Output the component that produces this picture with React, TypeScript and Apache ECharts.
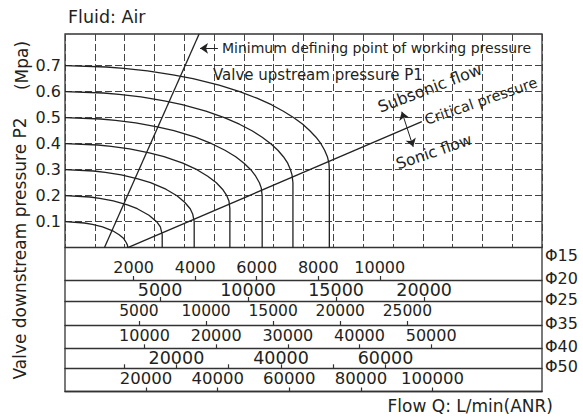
import React, { useEffect, useRef } from "react";
import * as echarts from "echarts";

// Valve upstream pressure P1 (MPa), one curve each
const upstreamP1 = [0.1, 0.2, 0.3, 0.4, 0.5, 0.6, 0.7];
// Downstream pressure ticks (MPa)
const pressureTicks = [0, 0.1, 0.2, 0.3, 0.4, 0.5, 0.6, 0.7];

// Curves: [flow (L/min, main plot basis), P2 (MPa)]
const curveP1_01 = [[0, 0.1], [630, 0.095], [890, 0.09], [1220, 0.08], [1550, 0.065], [1760, 0.05], [1910, 0.035], [1990, 0.02], [2030, 0.01], [2040, 0]];
const curveP1_02 = [[0, 0.2], [810, 0.195], [1130, 0.19], [1570, 0.18], [2030, 0.165], [2350, 0.15], [2730, 0.125], [2980, 0.1], [3100, 0.08], [3160, 0.05], [3160, 0]];
const curveP1_03 = [[0, 0.3], [930, 0.295], [1310, 0.29], [1830, 0.28], [2370, 0.265], [2780, 0.25], [3280, 0.225], [3640, 0.2], [3890, 0.175], [4070, 0.15], [4150, 0.13], [4200, 0.1], [4200, 0]];
const curveP1_04 = [[0, 0.4], [1070, 0.395], [1500, 0.39], [2100, 0.38], [2740, 0.365], [3220, 0.35], [3830, 0.325], [4290, 0.3], [4640, 0.275], [4920, 0.25], [5120, 0.225], [5260, 0.2], [5330, 0.18], [5360, 0.15], [5360, 0]];
const curveP1_05 = [[0, 0.5], [1160, 0.495], [1640, 0.49], [2300, 0.48], [3000, 0.465], [3540, 0.45], [4240, 0.425], [4770, 0.4], [5200, 0.375], [5550, 0.35], [5820, 0.325], [6040, 0.3], [6200, 0.275], [6320, 0.25], [6380, 0.23], [6410, 0.2], [6410, 0]];
const curveP1_06 = [[0, 0.6], [1250, 0.595], [1760, 0.59], [2470, 0.58], [3230, 0.565], [3810, 0.55], [4580, 0.525], [5180, 0.5], [5670, 0.475], [6080, 0.45], [6410, 0.425], [6690, 0.4], [6920, 0.375], [7100, 0.35], [7240, 0.325], [7330, 0.3], [7380, 0.28], [7410, 0.25], [7410, 0]];
const curveP1_07 = [[0, 0.7], [1350, 0.695], [1910, 0.69], [2680, 0.68], [3510, 0.665], [4160, 0.65], [5010, 0.625], [5680, 0.6], [6240, 0.575], [6710, 0.55], [7100, 0.525], [7440, 0.5], [7730, 0.475], [7960, 0.45], [8160, 0.425], [8320, 0.4], [8440, 0.375], [8530, 0.35], [8580, 0.325], [8593, 0.3], [8593, 0]];

const minWorkingLine = [[1280, 0], [4360, 0.822]];
const criticalLine = [[2040, 0], [11600, 0.485]];
const minArrow = [[4970, 0.767], [4390, 0.767]];
const regionArrow = [[10950, 0.523], [11320, 0.388]];

// Port sizes and their flow scales (L/min ANR)
const portSizes = ["Φ15", "Φ20", "Φ25", "Φ35", "Φ40", "Φ50"];
const ticksPhi15 = [2000, 4000, 6000, 8000, 10000];
const ticksPhi20 = [5000, 10000, 15000, 20000];
const ticksPhi25 = [5000, 10000, 15000, 20000, 25000];
const ticksPhi35 = [10000, 20000, 30000, 40000, 50000];
const ticksPhi40 = [10000, 20000, 30000, 40000, 50000, 60000];
const labelsPhi40 = [20000, 40000, 60000];
const ticksPhi50 = [20000, 40000, 60000, 80000, 100000];

const FONT = "DejaVu Sans";
const INK = "#231f20";
const LINE = "#333333";

export default function App() {
  const ref = useRef<HTMLDivElement>(null);

  useEffect(() => {
    if (!ref.current) return;
    const chart = echarts.init(ref.current, undefined, { renderer: "svg" });

    const L = 65;
    const W = 477;
    const rowLines = [257.3, 280, 301, 325, 348.3, 368.3, 391.5];
    const rowExtent = [[-233, 15274], [-400, 26700], [-510, 35030], [-1100, 65470], [-1316, 89940], [-2633, 130550]];
    const rowTicks = [ticksPhi15, ticksPhi20, ticksPhi25, ticksPhi35, ticksPhi40, ticksPhi50];
    const rowLabels = [ticksPhi15, ticksPhi20, ticksPhi25, ticksPhi35, labelsPhi40, ticksPhi50];
    const rowFont = [16, 17.5, 15.5, 16, 17.5, 16.5];
    const rowMargin = [2, 1, 2, 2, 1, 2];

    const grids: any[] = [
      { left: L, top: 34, width: W, height: 357.5, show: true, borderColor: LINE, borderWidth: 1.3, backgroundColor: "transparent" },
      { left: L, top: 34, width: W, height: 213.7 },
      { left: L, top: 65.7, width: W, height: 182 },
    ];
    const xAxes: any[] = [
      { gridIndex: 0, type: "value", show: false, min: 0, max: 1 },
      {
        gridIndex: 1, type: "value", min: 0, max: 16, interval: 1, position: "top",
        axisLine: { show: false }, axisTick: { show: false }, axisLabel: { show: false },
        splitLine: { show: true, lineStyle: { color: "#444", width: 1, type: [7, 3] } },
      },
      {
        gridIndex: 1, type: "value", min: 0, max: 15507, position: "bottom",
        axisLine: { show: true, lineStyle: { color: LINE, width: 1.3 } },
        axisTick: { show: false }, axisLabel: { show: false }, splitLine: { show: false },
      },
      { gridIndex: 2, type: "value", show: false, min: 0, max: 1 },
    ];
    const yAxes: any[] = [
      { gridIndex: 0, type: "value", show: false, min: 0, max: 1 },
      { gridIndex: 1, type: "value", show: false, min: 0, max: 0.822 },
      {
        gridIndex: 2, type: "value", min: 0, max: 0.7, interval: 0.1,
        axisLine: { show: false }, axisTick: { show: false },
        axisLabel: {
          show: true, margin: 4, color: INK, fontSize: 16, fontFamily: FONT,
          customValues: pressureTicks,
          formatter: (v: number) => (v === 0 ? "" : String(Math.round(v * 10) / 10)),
        },
        splitLine: { show: true, lineStyle: { color: "#444", width: 1, type: [7, 3] } },
      },
    ];

    portSizes.forEach((name, i) => {
      grids.push({ left: L, top: rowLines[i], width: W, height: rowLines[i + 1] - rowLines[i] });
      xAxes.push({
        gridIndex: 3 + i, type: "value", position: "top",
        min: rowExtent[i][0], max: rowExtent[i][1],
        axisLine: { show: true, lineStyle: { color: LINE, width: 1.3 } },
        axisTick: { show: true, inside: false, length: 4, lineStyle: { color: LINE, width: 1.2 }, customValues: rowTicks[i] },
        axisLabel: {
          show: true, inside: true, margin: rowMargin[i], color: INK, fontSize: rowFont[i], fontFamily: FONT,
          customValues: rowLabels[i], formatter: (v: number) => String(v),
        },
        splitLine: { show: false },
      });
      yAxes.push({ gridIndex: 3 + i, type: "value", show: false, min: 0, max: 1 });
    });

    const curves = [curveP1_01, curveP1_02, curveP1_03, curveP1_04, curveP1_05, curveP1_06, curveP1_07];
    const series: any[] = curves.map((data, i) => ({
      name: "P1 " + upstreamP1[i],
      type: "line", xAxisIndex: 2, yAxisIndex: 1, data,
      symbol: "none", silent: true,
      lineStyle: { color: "#222", width: 1.3 },
    }));
    series.push({
      name: "Minimum working pressure", type: "line", xAxisIndex: 2, yAxisIndex: 1,
      data: minWorkingLine, symbol: "none", silent: true,
      lineStyle: { color: "#222", width: 1.3 },
      markLine: {
        silent: true, symbol: ["none", "arrow"], symbolSize: 8,
        label: { show: false }, lineStyle: { color: "#222", width: 1, type: "solid" },
        data: [[{ coord: minArrow[0] }, { coord: minArrow[1] }]],
      },
    });
    series.push({
      name: "Critical pressure", type: "line", xAxisIndex: 2, yAxisIndex: 1,
      data: criticalLine, symbol: "none", silent: true,
      lineStyle: { color: "#222", width: 1.3 },
      markLine: {
        silent: true, symbol: ["arrow", "arrow"], symbolSize: 8,
        label: { show: false }, lineStyle: { color: "#222", width: 1, type: "solid" },
        data: [[{ coord: regionArrow[0] }, { coord: regionArrow[1] }]],
      },
    });

    const txt = (text: string, x: number, y: number, size: number, extra: any = {}) => ({
      type: "text", x, y, z: 10, rotation: extra.rotation || 0,
      style: { text, fill: INK, fontSize: size, fontFamily: FONT, align: extra.align || "left", verticalAlign: "middle" },
    });
    const deg = Math.PI / 180;

    const sizeLabels = portSizes.map((name, i) => txt(name, L + W + 3, rowLines[i] - 1.5, 16));

    chart.setOption({
      animation: false,
      backgroundColor: "#ffffff",
      grid: grids,
      xAxis: xAxes,
      yAxis: yAxes,
      series,
      graphic: [
        txt("Fluid: Air", 68, 17, 17.5),
        txt("Minimum defining point of working pressure", 222, 48.3, 14),
        txt("Valve upstream pressure P1", 213, 75, 15),
        txt("Subsonic flow", 430, 88, 16, { align: "center", rotation: 21 * deg }),
        txt("Critical pressure", 481, 101, 14.5, { align: "center", rotation: 19 * deg }),
        txt("Sonic flow", 434, 152, 15.5, { align: "center", rotation: 19 * deg }),
        txt("Valve downstream pressure P2", 20, 248.5, 17, { align: "center", rotation: 90 * deg }),
        txt("(Mpa)", 21.5, 65.5, 17, { align: "center", rotation: 90 * deg }),
        txt("Flow Q: L/min(ANR)", 553, 406, 17, { align: "right" }),
        ...sizeLabels,
      ],
    });

    return () => chart.dispose();
  }, []);

  return (
    <div
      ref={ref}
      style={{ position: "fixed", left: 0, top: 0, width: 583, height: 419, background: "#fff" }}
    />
  );
}
